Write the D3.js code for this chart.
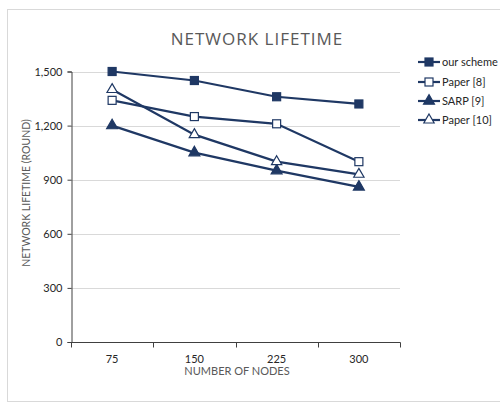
<!DOCTYPE html>
<html>
<head>
<meta charset="utf-8">
<script src="https://cdn.jsdelivr.net/npm/d3@7"></script>
<style>
  html, body { margin: 0; padding: 0; background: #fff; }
  svg { display: block; }
</style>
</head>
<body>
<svg id="chart" width="500" height="403"></svg>
<script>
// Network lifetime (rounds) by number of nodes, for four schemes
const nodeCounts = ["75", "150", "225", "300"];
const seriesNames = ["our scheme", "Paper [8]", "SARP [9]", "Paper [10]"];
const ourScheme = [1500, 1450, 1360, 1320];
const paper8 = [1340, 1250, 1210, 1000];
const sarp9 = [1200, 1050, 950, 860];
const paper10 = [1400, 1150, 1000, 930];
const yTicks = [0, 300, 600, 900, 1200, 1500];

const series = [
  { name: seriesNames[0], values: ourScheme, shape: "square", filled: true },
  { name: seriesNames[1], values: paper8, shape: "square", filled: false },
  { name: seriesNames[2], values: sarp9, shape: "triangle", filled: true },
  { name: seriesNames[3], values: paper10, shape: "triangle", filled: false }
];

const navy = "#1f3864";
const svg = d3.select("#chart");
const font = "Lato, 'Liberation Sans', Arial, sans-serif";

// outer frame
svg.append("rect")
  .attr("x", 7.5).attr("y", 9.5).attr("width", 500).attr("height", 392)
  .attr("fill", "none").attr("stroke", "#d9d9d9").attr("stroke-width", 1);

const plot = { left: 71, right: 400, top: 71, bottom: 342 };

const x = d3.scaleBand().domain(nodeCounts).range([plot.left, plot.right]);
const y = d3.scaleLinear().domain([0, 1500]).range([plot.bottom, plot.top + 0.5]);

// horizontal gridlines
svg.append("g")
  .selectAll("line")
  .data(yTicks.filter(d => d > 0))
  .join("line")
  .attr("x1", plot.left).attr("x2", plot.right)
  .attr("y1", d => Math.round(y(d)) + 0.5).attr("y2", d => Math.round(y(d)) + 0.5)
  .attr("stroke", "#d9d9d9").attr("stroke-width", 1);

// y axis
const yAxis = svg.append("g")
  .attr("transform", `translate(${plot.left + 0.5},0)`)
  .call(d3.axisLeft(y).tickValues(yTicks).tickFormat(d3.format(",")).tickSize(4).tickPadding(5));
yAxis.select(".domain").attr("stroke", "#404040");
yAxis.selectAll(".tick line").attr("stroke", "#404040");
yAxis.selectAll("text").attr("fill", "#262626").style("font-family", font).style("font-size", "11px");

// x axis with ticks at category boundaries
const xAxisG = svg.append("g")
  .attr("transform", `translate(0,${plot.bottom + 0.5})`);
xAxisG.append("line")
  .attr("x1", plot.left).attr("x2", plot.right + 0.5)
  .attr("stroke", "#404040");
const bounds = nodeCounts.map(d => x(d)).concat([x(nodeCounts[nodeCounts.length - 1]) + x.bandwidth()]);
xAxisG.selectAll("line.b")
  .data(bounds)
  .join("line")
  .attr("class", "b")
  .attr("x1", d => Math.round(d) + 0.5).attr("x2", d => Math.round(d) + 0.5)
  .attr("y1", 0).attr("y2", 5)
  .attr("stroke", "#404040");
xAxisG.selectAll("text")
  .data(nodeCounts)
  .join("text")
  .attr("x", d => x(d) + x.bandwidth() / 2)
  .attr("y", 20)
  .attr("text-anchor", "middle")
  .attr("fill", "#262626")
  .style("font-family", font).style("font-size", "11px")
  .text(d => d);

// titles
svg.append("text")
  .attr("x", 257).attr("y", 45)
  .attr("text-anchor", "middle")
  .attr("fill", "#595959")
  .style("font-family", "'Open Sans', 'Liberation Sans', sans-serif")
  .style("font-size", "17px")
  .style("letter-spacing", "1px")
  .text("NETWORK LIFETIME");

svg.append("text")
  .attr("x", 237).attr("y", 375)
  .attr("text-anchor", "middle")
  .attr("fill", "#595959")
  .style("font-family", font).style("font-size", "11px")
  .text("NUMBER OF NODES");

svg.append("text")
  .attr("transform", "translate(30,193) rotate(-90)")
  .attr("text-anchor", "middle")
  .attr("fill", "#595959")
  .style("font-family", font).style("font-size", "10.5px")
  .text("NETWORK LIFETIME (ROUND)");

// marker drawing
function drawMarker(g, s, cx, cy) {
  if (s.shape === "square") {
    g.append("rect")
      .attr("x", cx - 4).attr("y", cy - 4).attr("width", 8).attr("height", 8)
      .attr("fill", s.filled ? navy : "#fff")
      .attr("stroke", navy).attr("stroke-width", 1.2);
  } else {
    const sym = d3.symbol().type(d3.symbolTriangle).size(s.filled ? 52 : 46);
    g.append("path")
      .attr("transform", `translate(${cx},${cy})`)
      .attr("d", sym())
      .attr("fill", s.filled ? navy : "#fff")
      .attr("stroke", navy).attr("stroke-width", 1.2);
  }
}

const line = d3.line()
  .x((d, i) => x(nodeCounts[i]) + x.bandwidth() / 2)
  .y(d => y(d));

series.forEach(s => {
  const g = svg.append("g");
  g.append("path")
    .attr("d", line(s.values))
    .attr("fill", "none").attr("stroke", navy).attr("stroke-width", 2.2);
  s.values.forEach((v, i) => drawMarker(g, s, x(nodeCounts[i]) + x.bandwidth() / 2, y(v)));
});

// legend
const legendY = [62, 82, 101, 120];
series.forEach((s, i) => {
  const g = svg.append("g").attr("transform", `translate(0,${legendY[i]})`);
  g.append("line")
    .attr("x1", 418).attr("x2", 440).attr("y1", 0).attr("y2", 0)
    .attr("stroke", navy).attr("stroke-width", 2.2);
  drawMarker(g, s, 429, 0);
  g.append("text")
    .attr("x", 442).attr("y", 4)
    .attr("fill", "#262626")
    .style("font-family", font).style("font-size", "11px")
    .text(s.name);
});
</script>
</body>
</html>
